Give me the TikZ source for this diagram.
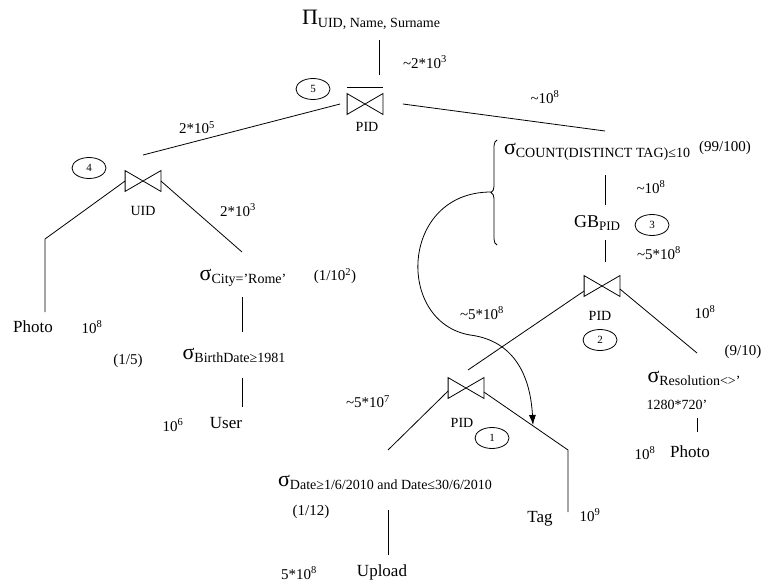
\documentclass[tikz,border=0pt]{standalone}
\usepackage{fontspec}
\setmainfont{Liberation Serif}
\usetikzlibrary{shapes.geometric, decorations.pathreplacing, arrows.meta}

\newcommand{\selop}[1]{{\fontsize{22}{22}\selectfont σ}\raisebox{-3pt}{\fontsize{14}{14}\selectfont #1}}
\newcommand{\projop}[1]{{\fontsize{22}{22}\selectfont Π}\raisebox{-3pt}{\fontsize{14}{14}\selectfont #1}}
\newcommand{\drawjoin}[1]{\draw (#1.north west) -- (#1.south west) -- (#1.north east) -- (#1.south east) -- cycle;}

\begin{document}
\begin{tikzpicture}[x=1pt, y=-1pt, line width=0.8pt,
  rel/.style={font=\fontsize{17}{17}\selectfont},
  card/.style={font=\fontsize{15}{15}\selectfont},
  attr/.style={font=\fontsize{14}{14}\selectfont},
  joinop/.style={minimum width=35pt, minimum height=20pt, inner sep=0pt},
  order/.style={draw, ellipse, minimum width=34pt, minimum height=21pt, inner sep=0pt, font=\fontsize{11}{11}\selectfont}]
  \useasboundingbox (0,0) rectangle (768,584);

  % root projection and join 5
  \node (proj) at (371,20) {\projop{UID, Name, Surname}};
  \node[joinop] (j5) at (365,104) {};
  \drawjoin{j5}
  \draw ([yshift=6pt]j5.north west) -- ([yshift=6pt]j5.north east);
  \node[attr] (j5key) at (367,127) {PID};
  \node[order] (c5) at (313,89) {5};
  \node[card] (n5top) at (425,62) {\textasciitilde2*10\textsuperscript{3}};
  \node[card] (n5left) at (197,128) {2*10\textsuperscript{5}};
  \node[card] (n5right) at (545,97) {\textasciitilde10\textsuperscript{8}};

  % left branch: join 4
  \node[joinop] (j4) at (143,181) {};
  \drawjoin{j4}
  \node[attr] (j4key) at (143,211) {UID};
  \node[order] (c4) at (89,168) {4};
  \node[card] (n4right) at (238,210) {2*10\textsuperscript{3}};
  \node[rel] (photoA) at (33,327) {Photo};
  \node[card] (nphotoA) at (92,327) {10\textsuperscript{8}};
  \node[card] (fphotoA) at (128,361) {(1/5)};
  \node (selcity) at (243,278) {\selop{City='Rome'}};
  \node[card] (fcity) at (335,276) {(1/10\textsuperscript{2})};
  \node (selbirth) at (234,355) {\selop{BirthDate≥1981}};
  \node[rel] (user) at (226,423) {User};
  \node[card] (nuser) at (173,425) {10\textsuperscript{6}};

  % right branch: having, group by, join 2
  \node (selcount) at (597,152) {\selop{COUNT(DISTINCT TAG)≤10}};
  \node[card] (fcount) at (725,148) {(99/100)};
  \node[card] (ngb) at (651,187) {\textasciitilde10\textsuperscript{8}};
  \node (gb) at (597,223) {{\fontsize{18}{18}\selectfont GB}\raisebox{-3pt}{\fontsize{13}{13}\selectfont PID}};
  \node[order] (c3) at (652,225) {3};
  \node[card] (nj2top) at (659,253) {\textasciitilde5*10\textsuperscript{8}};
  \node[joinop] (j2) at (602,286) {};
  \drawjoin{j2}
  \node[attr] (j2key) at (600,316) {PID};
  \node[order] (c2) at (600,340) {2};
  \node[card] (nj2left) at (482,313) {\textasciitilde5*10\textsuperscript{8}};
  \node[card] (nj2right) at (705,312) {10\textsuperscript{8}};
  \node[card] (fres) at (743,352) {(9/10)};
  \node (selres) at (694,378) {\selop{Resolution<>'}};
  \node[attr] (selres2) at (677,405) {1280*720'};
  \node[rel] (photoB) at (690,452) {Photo};
  \node[card] (nphotoB) at (645,453) {10\textsuperscript{8}};

  % join 1
  \node[joinop] (j1) at (466,388) {};
  \drawjoin{j1}
  \node[attr] (j1key) at (462,423) {PID};
  \node[order] (c1) at (492,438) {1};
  \node[card] (nj1left) at (368,402) {\textasciitilde5*10\textsuperscript{7}};
  \node (seldate) at (385,482) {\selop{Date≥1/6/2010 and Date≤30/6/2010}};
  \node[card] (fdate) at (311,512) {(1/12)};
  \node[rel] (upload) at (382,572) {Upload};
  \node[card] (nupload) at (299,573) {5*10\textsuperscript{8}};
  \node[rel] (tag) at (540,519) {Tag};
  \node[card] (ntag) at (590,515) {10\textsuperscript{9}};

  % connector ends
  \coordinate (projlow) at (379,40);
  \coordinate (j5high) at (379,75);
  \coordinate (j4high) at (143,155);
  \coordinate (counthigh) at (605,131);
  \coordinate (photobend) at (45,239);
  \coordinate (photohigh) at (45,312);
  \coordinate (cityhigh) at (242,252);
  \coordinate (citylow) at (242,297);
  \coordinate (birthhigh) at (242,332);
  \coordinate (birthlow) at (242,378);
  \coordinate (userhigh) at (242,407);
  \coordinate (countlow) at (605,175);
  \coordinate (gbhigh) at (605,205);
  \coordinate (gblow) at (605,240);
  \coordinate (j2high) at (605,262);
  \coordinate (j1high) at (468,370);
  \coordinate (reshigh) at (697,353);
  \coordinate (reslow) at (697,418);
  \coordinate (photoBhigh) at (697,432);
  \coordinate (datehigh) at (388,450);
  \coordinate (tagbend) at (568,450);
  \coordinate (taghigh) at (568,512);
  \coordinate (datelow) at (388,510);
  \coordinate (uploadhigh) at (388,555);
  \coordinate (bracetop) at (497,140);
  \coordinate (bracelow) at (497,245);
  \coordinate (bracetip) at (491,192);
  \coordinate (tagarrow) at (533,425);

  \draw (projlow) -- (j5high);
  \draw ([xshift=-7pt]j5.west) -- (j4high);
  \draw ([xshift=20pt]j5.east) -- (counthigh);
  \draw (j4.west) -- (photobend) -- (photohigh);
  \draw (j4.east) -- (cityhigh);
  \draw (citylow) -- (birthhigh);
  \draw (birthlow) -- (userhigh);
  \draw (countlow) -- (gbhigh);
  \draw (gblow) -- (j2high);
  \draw ([yshift=-5pt]j2.west) -- (j1high);
  \draw ([yshift=-3pt]j2.east) -- (reshigh);
  \draw (reslow) -- (photoBhigh);
  \draw ([yshift=-3pt]j1.west) -- (datehigh);
  \draw ([yshift=-4pt]j1.east) -- (tagbend) -- (taghigh);
  \draw (datelow) -- (uploadhigh);

  \draw[decorate, decoration={brace, amplitude=6pt}] (bracelow) -- (bracetop);
  \draw[-{Latex[length=10pt, width=7pt]}] (bracetip) .. controls (400,192) and (395,322) .. (470,335) .. controls (510,340) and (530,370) .. (tagarrow);
\end{tikzpicture}
\end{document}
